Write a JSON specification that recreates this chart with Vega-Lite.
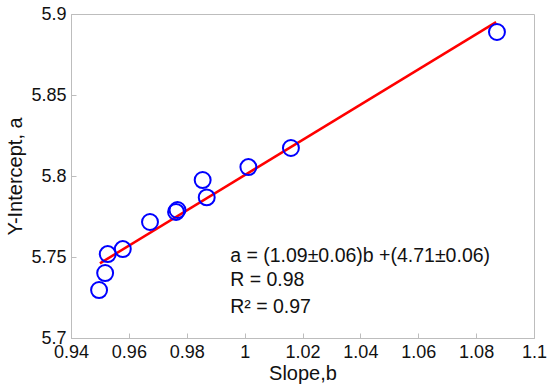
{
  "$schema": "https://vega.github.io/schema/vega-lite/v6.json",
  "width": 463,
  "height": 324,
  "autosize": {"type": "none"},
  "padding": {"left": 71, "top": 14, "right": 16, "bottom": 52},
  "background": "white",
  "config": {
    "view": {"stroke": "#bdbdbd", "strokeWidth": 1},
    "font": "Liberation Sans",
    "axis": {
      "grid": false,
      "domainColor": "#bdbdbd",
      "tickColor": "#bdbdbd",
      "tickSize": -5,
      "labelPadding": 11,
      "labelFont": "Liberation Sans",
      "labelFontSize": 18,
      "labelColor": "#111111",
      "titleFont": "Liberation Sans",
      "titleFontSize": 20,
      "titleFontWeight": "normal",
      "titleColor": "#111111",
      "labelFlush": false,
      "labelOverlap": false
    }
  },
  "datasets": {
    "points": [
      {"b": 0.9497, "a": 5.7296},
      {"b": 0.9518, "a": 5.7401},
      {"b": 0.9527, "a": 5.7518},
      {"b": 0.9579, "a": 5.7549},
      {"b": 0.9673, "a": 5.7716},
      {"b": 0.9763, "a": 5.7778},
      {"b": 0.9768, "a": 5.7790},
      {"b": 0.9869, "a": 5.7868},
      {"b": 0.9855, "a": 5.7975},
      {"b": 1.0013, "a": 5.8055},
      {"b": 1.0160, "a": 5.8173},
      {"b": 1.0872, "a": 5.8889}
    ],
    "fit": [
      {"b": 0.950, "a": 5.7461},
      {"b": 1.0869, "a": 5.8950}
    ],
    "notes": [
      {"b": 0.995, "a": 5.7506, "label": "a = (1.09±0.06)b +(4.71±0.06)"},
      {"b": 0.995, "a": 5.7358, "label": "R = 0.98"},
      {"b": 0.995, "a": 5.7191, "label": "R² = 0.97"}
    ]
  },
  "layer": [
    {
      "data": {"name": "fit"},
      "mark": {"type": "line", "color": "#ff0000", "strokeWidth": 2.5},
      "encoding": {
        "x": {"field": "b", "type": "quantitative", "scale": {"domain": [0.94, 1.1], "nice": false, "zero": false},
              "axis": {"title": "Slope,b", "values": [0.94, 0.96, 0.98, 1, 1.02, 1.04, 1.06, 1.08, 1.1], "format": "~g", "labelPadding": 10, "titlePadding": 2}},
        "y": {"field": "a", "type": "quantitative", "scale": {"domain": [5.7, 5.9], "nice": false, "zero": false},
              "axis": {"title": "Y-Intercept, a", "values": [5.7, 5.75, 5.8, 5.85, 5.9], "format": "~g", "labelPadding": 10, "titlePadding": 5}}
      }
    },
    {
      "data": {"name": "points"},
      "mark": {"type": "point", "shape": "circle", "filled": false, "color": "#0000ff", "strokeWidth": 2, "size": 254, "opacity": 1},
      "encoding": {
        "x": {"field": "b", "type": "quantitative"},
        "y": {"field": "a", "type": "quantitative"}
      }
    },
    {
      "data": {"name": "notes"},
      "mark": {"type": "text", "align": "left", "baseline": "middle", "fontSize": 19.5, "font": "Liberation Sans", "color": "#111111"},
      "encoding": {
        "x": {"field": "b", "type": "quantitative"},
        "y": {"field": "a", "type": "quantitative"},
        "text": {"field": "label"}
      }
    }
  ]
}
